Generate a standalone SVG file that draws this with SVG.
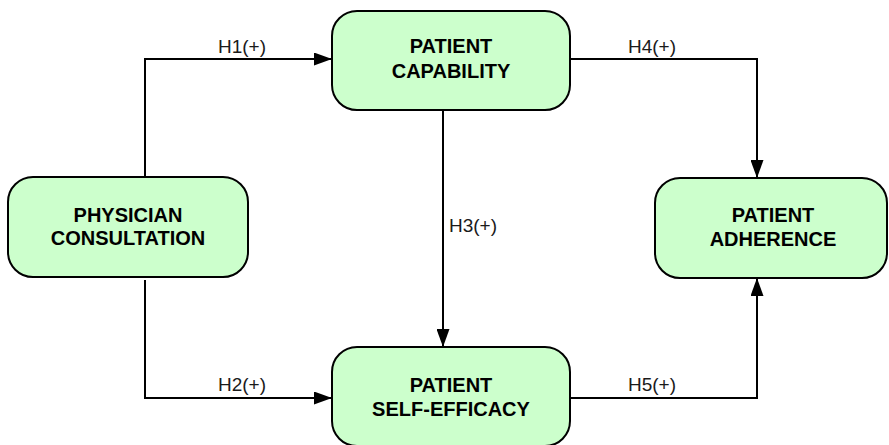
<svg xmlns="http://www.w3.org/2000/svg" width="889" height="445" viewBox="0 0 889 445">
  <defs>
    <marker id="arrow" markerUnits="userSpaceOnUse" markerWidth="18" markerHeight="13" refX="18" refY="6.5" orient="auto">
      <path d="M0,0 L18,6.5 L0,13 z" fill="#000"/>
    </marker>
    <style>
      .box { fill: #ccffcc; stroke: #000; stroke-width: 2; }
      .node-text { font-family: "Liberation Sans", Arial, sans-serif; font-weight: bold; font-size: 20px; fill: #000; text-anchor: middle; }
      .edge { fill: none; stroke: #000; stroke-width: 2; marker-end: url(#arrow); }
      .label { font-family: "Liberation Sans", Arial, sans-serif; font-size: 19px; fill: #1a1a1a; }
    </style>
  </defs>
  <rect width="889" height="445" fill="#fff"/>

  <g id="connectors">
    <path class="edge" d="M145,177 V59 H332"/>
    <path class="edge" d="M145,280 V398 H332"/>
    <path class="edge" d="M443,110 V347"/>
    <path class="edge" d="M570,59 H757 V178"/>
    <path class="edge" d="M570,398 H757 V278"/>
    <text class="label" x="242" y="53" text-anchor="middle">H1(+)</text>
    <text class="label" x="242" y="391" text-anchor="middle">H2(+)</text>
    <text class="label" x="449" y="232">H3(+)</text>
    <text class="label" x="652" y="53" text-anchor="middle">H4(+)</text>
    <text class="label" x="652" y="391" text-anchor="middle">H5(+)</text>
  </g>

  <g id="physician-consultation">
    <rect class="box" x="8" y="177" width="240" height="100" rx="25" ry="25"/>
    <text class="node-text" x="128" y="222">PHYSICIAN</text>
    <text class="node-text" x="128" y="245">CONSULTATION</text>
  </g>

  <g id="patient-capability">
    <rect class="box" x="332" y="11" width="238" height="99" rx="25" ry="25"/>
    <text class="node-text" x="451" y="53">PATIENT</text>
    <text class="node-text" x="451" y="78">CAPABILITY</text>
  </g>

  <g id="patient-self-efficacy">
    <rect class="box" x="332" y="347" width="238" height="99" rx="25" ry="25"/>
    <text class="node-text" x="451" y="392">PATIENT</text>
    <text class="node-text" x="451" y="416">SELF-EFFICACY</text>
  </g>

  <g id="patient-adherence">
    <rect class="box" x="655" y="178" width="232" height="100" rx="25" ry="25"/>
    <text class="node-text" x="773" y="222">PATIENT</text>
    <text class="node-text" x="773" y="246">ADHERENCE</text>
  </g>
</svg>
